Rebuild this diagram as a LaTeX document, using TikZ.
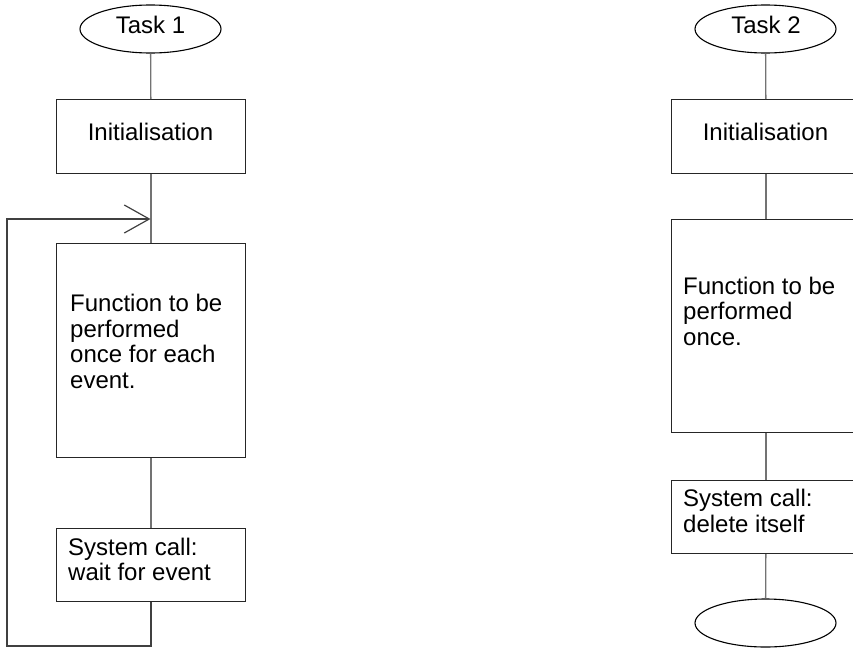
\documentclass[tikz,border=0pt]{standalone}
\usepackage{fontspec}
\setmainfont{Liberation Sans}
\usetikzlibrary{shapes.geometric,arrows.meta}
\begin{document}
\begin{tikzpicture}[x=1pt,y=-1pt,
  every node/.style={font=\fontsize{24}{25.5}\selectfont},
  box/.style={draw=black!85, line width=1.1pt, inner sep=0pt, anchor=north west,
              minimum width=189pt},
  term/.style={draw=black, ellipse, line width=1.1pt, minimum width=141pt,
               minimum height=48pt, inner sep=0pt},
  txt/.style={inner sep=0pt, align=left, anchor=west},
  ctxt/.style={inner sep=0pt, anchor=base},
  link/.style={draw=black!55, line width=1.3pt},
  loopline/.style={draw=black!75, line width=1.2pt}]

\useasboundingbox (0,0) rectangle (853,648);
\clip (0,0) rectangle (853,648);

% ---------- Task 1: event loop ----------
\node[term] (t1) at (150.5,29) {};
\node[ctxt] (t1txt) at (150.5,33) {Task 1};

\node[box, minimum height=74pt] (init1) at (56,99) {};
\node[ctxt] (init1txt) at (150.5,140) {Initialisation};

\node[box, minimum height=214pt] (func1) at (56,243) {};
\node[txt] (func1txt) at (70,341.5) {Function to be\\performed\\once for each\\event.};

\node[box, minimum height=73pt] (sys1) at (56,528) {};
\node[txt] (sys1txt) at (68,559.5) {System call:\\wait for event};

\coordinate (join1) at (150.5,219);
\coordinate (lb) at (7,646);

\draw[link] (t1) -- (init1);
\draw[link] (init1) -- (func1);
\draw[link] (func1) -- (sys1);
\draw[loopline, -{Straight Barb[length=25pt,width=28pt]}]
  (sys1.south) |- (lb) |- (join1);

% ---------- Task 2: runs once ----------
\node[term] (t2) at (765.5,29) {};
\node[ctxt] (t2txt) at (766,33) {Task 2};

\node[box, minimum height=74pt] (init2) at (671,99) {};
\node[ctxt] (init2txt) at (765.5,140) {Initialisation};

\node[box, minimum height=213pt] (func2) at (671,219) {};
\node[txt] (func2txt) at (683,311) {Function to be\\performed\\once.};

\node[box, minimum height=73pt] (sys2) at (671,480) {};
\node[txt] (sys2txt) at (683,511) {System call:\\delete itself};

\node[term] (end2) at (765.5,623) {};

\draw[link] (t2) -- (init2);
\draw[link] (init2) -- (func2);
\draw[link] (func2) -- (sys2);
\draw[link] (sys2) -- (end2);
\end{tikzpicture}
\end{document}
